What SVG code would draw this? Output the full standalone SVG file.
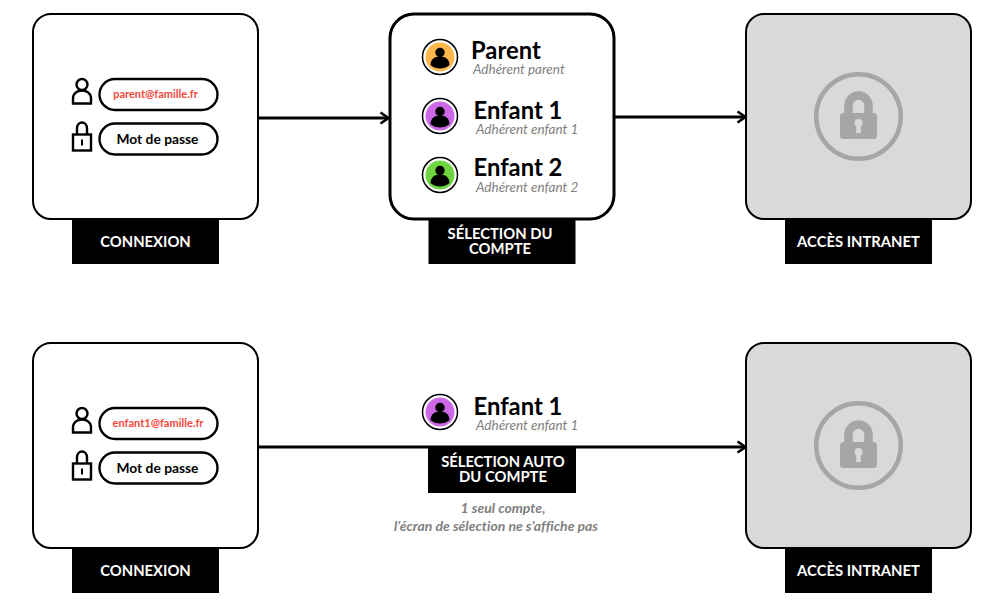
<svg xmlns="http://www.w3.org/2000/svg" width="1000" height="600" viewBox="0 0 1000 600">
<style>
text{font-family:Lato,"Liberation Sans",sans-serif;font-variant-ligatures:none}
.card{fill:#fff;stroke:#000;stroke-width:2}
.tag{fill:#000}
.tagt{fill:#fff;font-weight:700;font-size:14.800px;text-anchor:middle}
.pill{fill:#fff;stroke:#000;stroke-width:2.400}
.mail{fill:#f4473c;font-size:11px;font-weight:700;text-anchor:middle}
.pw{fill:#000;font-size:13.800px;font-weight:700;text-anchor:middle}
.ic{fill:none;stroke:#000;stroke-width:2.400}
.name{font-size:23.800px;font-weight:700;fill:#000}
.sub{font-size:13.500px;font-style:italic;fill:#7f7f7f}
.note{font-size:14px;font-style:italic;font-weight:700;fill:#7f7f7f;text-anchor:middle}
.c{fill:none;stroke:#000;stroke-width:3}
.lk{fill:#a6a6a6}
</style>
<defs>
<marker id="arr" markerUnits="userSpaceOnUse" markerWidth="14" markerHeight="16" refX="11" refY="8" orient="auto"><path d="M3.500 2.500L11.500 8L3.500 13.500" fill="none" stroke="#000" stroke-width="2.600"/></marker>
<g id="login">
<circle class="ic" cx="0" cy="6" r="5.500"/>
<path class="ic" d="M-9 25V20C-9 15 -5 12 0 12C5 12 9 15 9 20V25Z"/>
<rect class="pill" x="17.500" y="0.500" width="118" height="31" rx="15.500"/>
<rect class="pill" x="17.500" y="45" width="118" height="31" rx="15.500"/>
<text class="pw" x="75.500" y="65.500">Mot de passe</text>
<path class="ic" d="M-5 56V50C-5 42 5 42 5 50V56"/>
<rect class="ic" x="-9" y="56" width="18" height="16"/>
<path d="M0 61V67" stroke="#000" stroke-width="2"/>
</g>
<g id="person"><circle cx="0" cy="-4.500" r="4.700" fill="#000"/><path d="M-9.500 8C-9.500 2 -5 -0.500 0 -0.500C5 -0.500 9.500 2 9.500 8C7 10.500 3 11.500 0 11.500C-3 11.500 -7 10.500 -9.500 8Z" fill="#000"/></g>
<g id="lock">
<rect class="card" x="0" y="0" width="225" height="205" rx="18" style="fill:#d9d9d9"/>
<circle cx="112.500" cy="102.500" r="42.300" fill="none" stroke="#a6a6a6" stroke-width="4.500"/>
<path d="M102.500 100V91.500A10 10 0 0 1 122.500 91.500V100" fill="none" stroke="#a6a6a6" stroke-width="8.500"/>
<rect class="lk" x="94" y="99" width="37" height="26" rx="3.500"/>
<circle cx="112.500" cy="109" r="4" fill="#d9d9d9"/><path d="M110.500 110H114.500L115 119H110Z" fill="#d9d9d9"/>
</g>
</defs>
<g id="connectors">
<path class="c" d="M259 118H388" marker-end="url(#arr)"/>
<path class="c" d="M615 117H745" marker-end="url(#arr)"/>
<path class="c" d="M259 447H745" marker-end="url(#arr)"/>
</g>
<g id="node-connexion-1">
<rect class="card" x="33" y="14" width="225" height="205" rx="18"/>
<use href="#login" x="82" y="78.500"/>
<text class="mail" x="155.500" y="98">parent@famille.fr</text>
<rect class="tag" x="72" y="219" width="147" height="45"/>
<text class="tagt" x="145.500" y="246.500">CONNEXION</text>
</g>
<g id="node-selection">
<rect class="card" x="390" y="14" width="224" height="205" rx="24" style="stroke-width:3"/>
<circle cx="440" cy="57" r="17.500" fill="#fff" stroke="#000" stroke-width="1.500"/><circle cx="440" cy="57" r="14.500" fill="#ffb74d"/><use href="#person" x="440" y="57"/>
<text class="name" x="471" y="58.500">Parent</text><text class="sub" x="473" y="74">Adhérent parent</text>
<circle cx="440" cy="116" r="17.500" fill="#fff" stroke="#000" stroke-width="1.500"/><circle cx="440" cy="116" r="14.500" fill="#cd69e6"/><use href="#person" x="440" y="116"/>
<text class="name" x="473.500" y="118.500">Enfant 1</text><text class="sub" x="476" y="134">Adhérent enfant 1</text>
<circle cx="440" cy="175" r="17.500" fill="#fff" stroke="#000" stroke-width="1.500"/><circle cx="440" cy="175" r="14.500" fill="#6fd63f"/><use href="#person" x="440" y="175"/>
<text class="name" x="473.500" y="175.500">Enfant 2</text><text class="sub" x="476" y="192">Adhérent enfant 2</text>
<rect class="tag" x="428.500" y="219" width="147" height="45"/>
<text class="tagt" x="500" y="239">SÉLECTION DU<tspan x="500" dy="14.500">COMPTE</tspan></text>
</g>
<g id="node-acces-1">
<use href="#lock" x="746" y="14"/>
<rect class="tag" x="785" y="219" width="147" height="45"/>
<text class="tagt" x="858.500" y="246.500">ACCÈS INTRANET</text>
</g>
<g id="node-connexion-2">
<rect class="card" x="33" y="343" width="225" height="205" rx="18"/>
<use href="#login" x="82" y="407.500"/>
<text class="mail" x="158" y="427">enfant1@famille.fr</text>
<rect class="tag" x="72" y="548" width="147" height="45"/>
<text class="tagt" x="145.500" y="575.500">CONNEXION</text>
</g>
<g id="node-auto">
<circle cx="440" cy="412" r="17.500" fill="#fff" stroke="#000" stroke-width="1.500"/><circle cx="440" cy="412" r="14.500" fill="#cd69e6"/><use href="#person" x="440" y="412"/>
<text class="name" x="473.500" y="414.500">Enfant 1</text><text class="sub" x="476" y="430">Adhérent enfant 1</text>
<rect class="tag" x="428" y="448" width="148" height="45"/>
<text class="tagt" x="503" y="467">SÉLECTION AUTO<tspan x="503" dy="14.500">DU COMPTE</tspan></text>
<text class="note" x="503" y="513">1 seul compte,</text><text class="note" x="496" y="531">l’écran de sélection ne s’affiche pas</text>
</g>
<g id="node-acces-2">
<use href="#lock" x="746" y="343"/>
<rect class="tag" x="785" y="548" width="147" height="45"/>
<text class="tagt" x="858.500" y="575.500">ACCÈS INTRANET</text>
</g>
</svg>
